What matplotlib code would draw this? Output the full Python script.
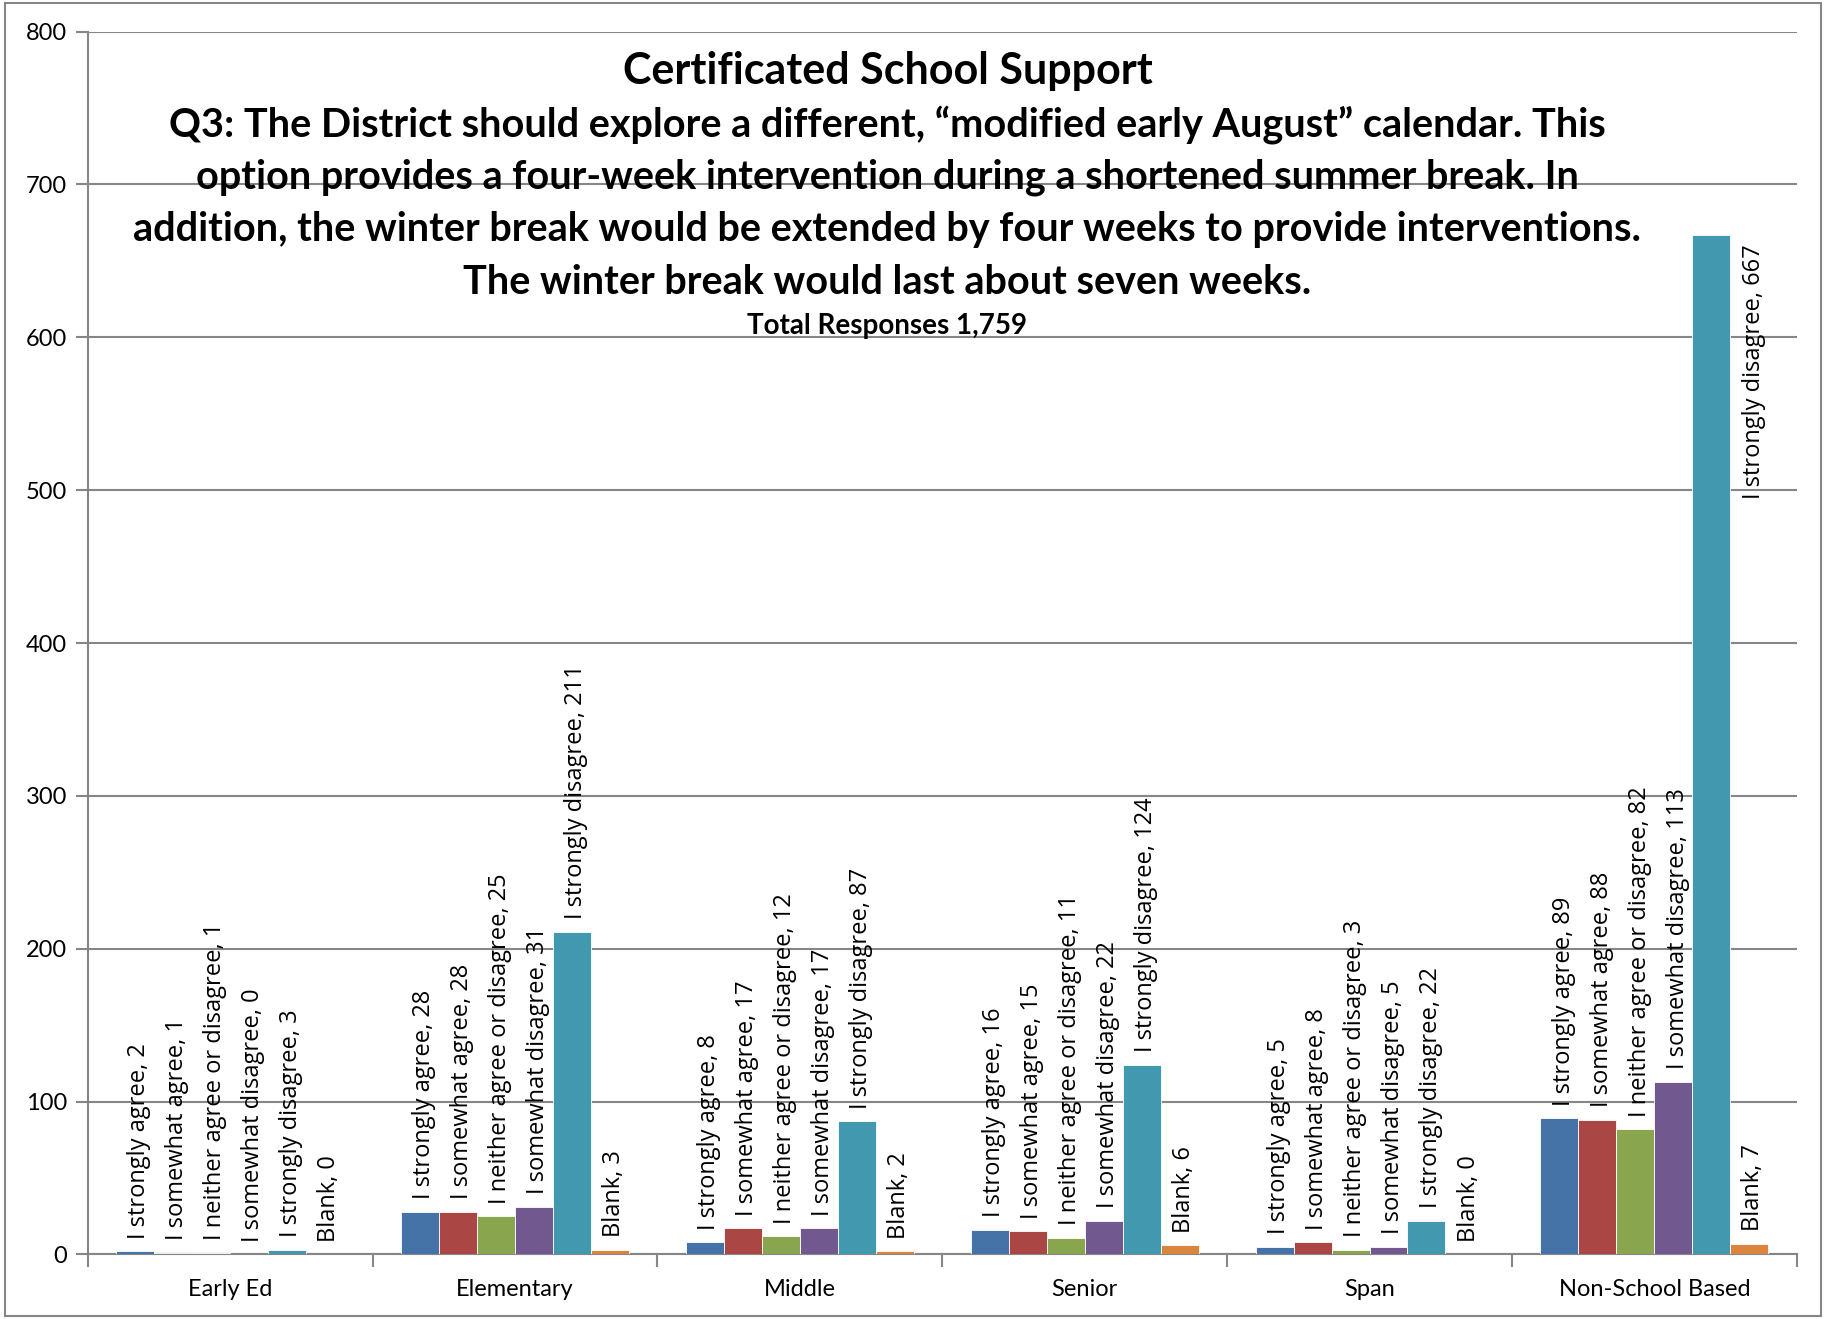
import numpy as np
import matplotlib.pyplot as plt
from matplotlib.patches import Rectangle

# Data
groups = ['Early Ed', 'Elementary', 'Middle', 'Senior', 'Span', 'Non-School Based']
answers = ['I strongly agree', 'I somewhat agree', 'I neither agree or disagree',
           'I somewhat disagree', 'I strongly disagree', 'Blank']
strongly_agree = [2, 28, 8, 16, 5, 89]
somewhat_agree = [1, 28, 17, 15, 8, 88]
neither = [1, 25, 12, 11, 3, 82]
somewhat_disagree = [0, 31, 17, 22, 5, 113]
strongly_disagree = [3, 211, 87, 124, 22, 667]
blank = [0, 3, 2, 6, 0, 7]
series = [strongly_agree, somewhat_agree, neither, somewhat_disagree, strongly_disagree, blank]
colors = ['#4572A7', '#AA4643', '#89A54E', '#71588F', '#4198AF', '#DB843D']

plt.rcParams['font.family'] = ['Lato', 'DejaVu Sans']

fig = plt.figure(figsize=(18.26, 13.19), dpi=100)
ax = fig.add_axes([0.048, 0.049, 0.936, 0.927])

n = len(series)
bw = 1 / (n + 1.5)
x = np.arange(len(groups))
ymax = 800
lab_font = ['Open Sans', 'DejaVu Sans']

for i, (vals, col) in enumerate(zip(series, colors)):
    pos = x - 0.5 + 0.75 * bw + (i + 0.5) * bw
    ax.bar(pos, vals, width=bw, color=col, edgecolor='white', linewidth=0.6, zorder=3)
    for p, v in zip(pos, vals):
        txt = f'{answers[i]}, {v}'
        if v > 600:
            ax.annotate(txt, (p, v), xytext=(31, -7), textcoords='offset points',
                        rotation=90, ha='center', va='top', fontsize=17,
                        family=lab_font, zorder=4)
        else:
            ax.annotate(txt, (p, v), xytext=(3, 9), textcoords='offset points',
                        rotation=90, ha='center', va='bottom', fontsize=17,
                        family=lab_font, zorder=4)

ax.set_xlim(-0.5, len(groups) - 0.5)
ax.set_ylim(0, ymax)
ax.set_yticks(np.arange(0, ymax + 1, 100))
ax.set_xticks(x)
ax.set_xticklabels(groups, fontsize=17)
ax.set_xticks(np.arange(-0.5, len(groups)), minor=True)
ax.tick_params(axis='x', which='major', length=0, pad=18)
ax.tick_params(axis='x', which='minor', length=9, width=1.5, color='#868686')
ax.tick_params(axis='y', length=9, width=1.5, color='#868686', labelsize=17, pad=6)
ax.grid(axis='y', color='#868686', linewidth=1.5, zorder=0)
for s in ['top', 'right']:
    ax.spines[s].set_visible(False)
for s in ['left', 'bottom']:
    ax.spines[s].set_color('#868686')
    ax.spines[s].set_linewidth(1.5)

title_lines = ['Q3: The District should explore a different, \u201cmodified early August\u201d calendar. This',
               'option provides a four-week intervention during a shortened summer break. In',
               'addition, the winter break would be extended by four weeks to provide interventions.',
               'The winter break would last about seven weeks.']
fig.text(0.486, 1 - 71 / 1319, 'Certificated School Support', ha='center', va='center',
         fontsize=31, fontweight='bold')
for k, line in enumerate(title_lines):
    fig.text(0.486, 1 - (125 + k * 52.5) / 1319, line, ha='center', va='center',
             fontsize=28.5, fontweight='bold')
fig.text(0.486, 1 - 326 / 1319, 'Total Responses 1,759', ha='center', va='center',
         fontsize=20, fontweight='bold')

fig.patches.append(Rectangle((0.003, 0.002), 0.994, 0.996, transform=fig.transFigure,
                             fill=False, edgecolor='#868686', linewidth=1.5))

fig.savefig('out.png', dpi=100)
